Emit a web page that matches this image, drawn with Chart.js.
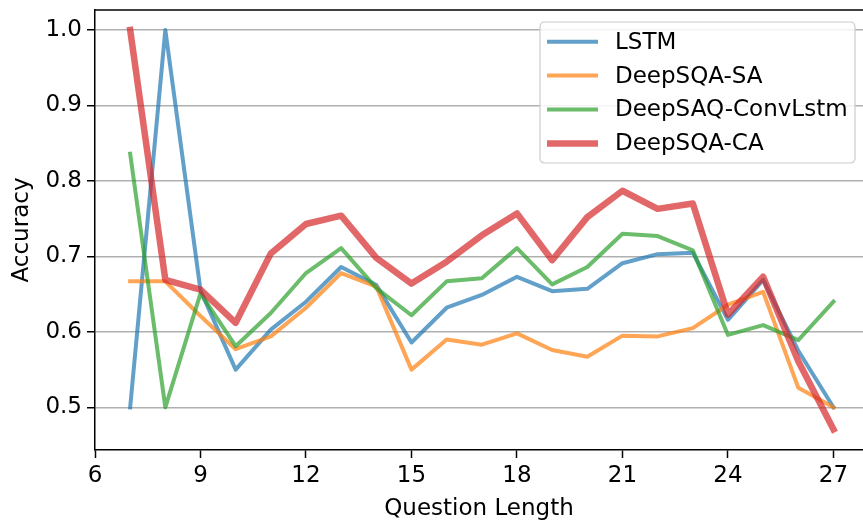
<!DOCTYPE html>
<html>
<head>
<meta charset="utf-8">
<script src="https://cdn.jsdelivr.net/npm/chart.js@4/dist/chart.umd.min.js"></script>
<style>
  html, body { margin: 0; padding: 0; background: #fff; overflow: hidden; }
  #wrap { width: 863px; height: 520px; }
</style>
</head>
<body>
<div id="wrap"><canvas id="grafico" width="863" height="520"></canvas></div>
<script>
// question length on the x axis
var questionLength = [7, 8, 9, 10, 11, 12, 13, 14, 15, 16, 17, 18, 19, 20, 21, 22, 23, 24, 25, 26, 27];

// accuracy per model
var lstm      = [0.500, 1.000, 0.655, 0.550, 0.603, 0.640, 0.686, 0.662, 0.586, 0.632, 0.649, 0.673, 0.654, 0.657, 0.691, 0.703, 0.705, 0.616, 0.669, 0.575, 0.500];
var deepsqaSA = [0.667, 0.667, 0.621, 0.577, 0.594, 0.632, 0.678, 0.660, 0.550, 0.590, 0.583, 0.598, 0.576, 0.567, 0.595, 0.594, 0.605, 0.636, 0.653, 0.526, 0.500];
var convLstm  = [0.836, 0.500, 0.651, 0.581, 0.625, 0.678, 0.711, 0.658, 0.622, 0.667, 0.671, 0.711, 0.663, 0.686, 0.730, 0.727, 0.708, 0.596, 0.609, 0.589, 0.640];
var deepsqaCA = [1.000, 0.669, 0.656, 0.612, 0.704, 0.743, 0.754, 0.698, 0.664, 0.693, 0.728, 0.757, 0.695, 0.752, 0.787, 0.763, 0.770, 0.623, 0.673, 0.561, 0.471];

var xTicks = [6, 9, 12, 15, 18, 21, 24, 27];
var yTicks = [0.5, 0.6, 0.7, 0.8, 0.9, 1.0];

var FONTE = "'DejaVu Sans', sans-serif";
var TAM = 23;

function pontos(valores) {
    var lista = [];
    for (var i = 0; i < questionLength.length; i++) {
        lista.push({ x: questionLength[i], y: valores[i] });
    }
    return lista;
}

function serie(label, valores, cor, largura, ordem) {
    return {
        label: label,
        data: pontos(valores),
        borderColor: cor,
        borderWidth: largura,
        pointRadius: 0,
        borderJoinStyle: "round",
        borderCapStyle: "square",
        tension: 0,
        order: ordem
    };
}

// top frame line and the legend box inside the plot
var molduraLegenda = {
    id: "molduraLegenda",
    afterDraw: function (chart) {
        var ctx = chart.ctx;
        var area = chart.chartArea;

        ctx.save();
        ctx.strokeStyle = "#000";
        ctx.lineWidth = 1.5;
        ctx.beginPath();
        ctx.moveTo(area.left - 0.75, area.top);
        ctx.lineTo(area.right + 2, area.top);
        ctx.stroke();

        // legend
        var bx = 540, by = 22, bw = 315, bh = 141, r = 5;
        ctx.fillStyle = "rgba(255,255,255,0.85)";
        ctx.strokeStyle = "#cccccc";
        ctx.lineWidth = 1.2;
        ctx.beginPath();
        ctx.moveTo(bx + r, by);
        ctx.lineTo(bx + bw - r, by);
        ctx.quadraticCurveTo(bx + bw, by, bx + bw, by + r);
        ctx.lineTo(bx + bw, by + bh - r);
        ctx.quadraticCurveTo(bx + bw, by + bh, bx + bw - r, by + bh);
        ctx.lineTo(bx + r, by + bh);
        ctx.quadraticCurveTo(bx, by + bh, bx, by + bh - r);
        ctx.lineTo(bx, by + r);
        ctx.quadraticCurveTo(bx, by, bx + r, by);
        ctx.closePath();
        ctx.fill();
        ctx.stroke();

        var sets = chart.data.datasets;
        ctx.font = TAM + "px " + FONTE;
        ctx.textBaseline = "middle";
        ctx.textAlign = "left";
        for (var i = 0; i < sets.length; i++) {
            var yy = 41.7 + i * 33.9;
            ctx.strokeStyle = sets[i].borderColor;
            ctx.lineWidth = sets[i].borderWidth;
            ctx.lineCap = "butt";
            ctx.beginPath();
            ctx.moveTo(547, yy);
            ctx.lineTo(598, yy);
            ctx.stroke();
            ctx.fillStyle = "#000";
            ctx.fillText(sets[i].label, 615, yy + 1);
        }
        ctx.restore();
    }
};

const ctx1 = document.getElementById("grafico");

new Chart(ctx1, {
    type: "line",
    data: {
        datasets: [
            serie("LSTM", lstm, "rgba(31,119,180,0.7)", 4, 4),
            serie("DeepSQA-SA", deepsqaSA, "rgba(255,127,14,0.7)", 4, 3),
            serie("DeepSAQ-ConvLstm", convLstm, "rgba(44,160,44,0.7)", 4, 2),
            serie("DeepSQA-CA", deepsqaCA, "rgba(214,39,40,0.7)", 6.5, 1)
        ]
    },
    plugins: [molduraLegenda],
    options: {
        responsive: false,
        animation: false,
        layout: { padding: { top: 10, right: 0, left: 0, bottom: 0 } },
        plugins: {
            legend: { display: false },
            tooltip: { enabled: false }
        },
        scales: {
            x: {
                type: "linear",
                min: 6,
                max: 27.84,
                afterBuildTicks: function (axis) {
                    axis.ticks = xTicks.map(function (v) { return { value: v }; });
                },
                afterFit: function (axis) {
                    axis.height = 70;
                    axis.paddingLeft = 0;
                    axis.paddingRight = 0;
                },
                ticks: {
                    color: "#000",
                    font: { family: FONTE, size: TAM },
                    padding: 4,
                    maxRotation: 0,
                    autoSkip: false
                },
                grid: {
                    drawOnChartArea: false,
                    drawTicks: true,
                    tickLength: 8,
                    tickColor: "#000",
                    tickWidth: 1.5
                },
                border: { color: "#000", width: 1.5 },
                title: {
                    display: true,
                    text: "Question Length",
                    color: "#000",
                    font: { family: FONTE, size: TAM },
                    padding: { top: 0, bottom: -3 }
                }
            },
            y: {
                min: 0.4435,
                max: 1.0265,
                afterBuildTicks: function (axis) {
                    axis.ticks = yTicks.map(function (v) { return { value: v }; });
                },
                afterFit: function (axis) {
                    axis.width = 95;
                    axis.paddingTop = 0;
                    axis.paddingBottom = 0;
                },
                ticks: {
                    color: "#000",
                    font: { family: FONTE, size: TAM },
                    padding: 5,
                    callback: function (v) { return v.toFixed(1); }
                },
                grid: {
                    color: "#b0b0b0",
                    lineWidth: 1.5,
                    drawTicks: true,
                    tickLength: 8,
                    tickColor: "#000",
                    tickWidth: 1.5
                },
                border: { color: "#000", width: 1.5 },
                title: {
                    display: true,
                    text: "Accuracy",
                    color: "#000",
                    font: { family: FONTE, size: TAM },
                    padding: { top: 8, bottom: 0 }
                }
            }
        }
    }
});
</script>
</body>
</html>
